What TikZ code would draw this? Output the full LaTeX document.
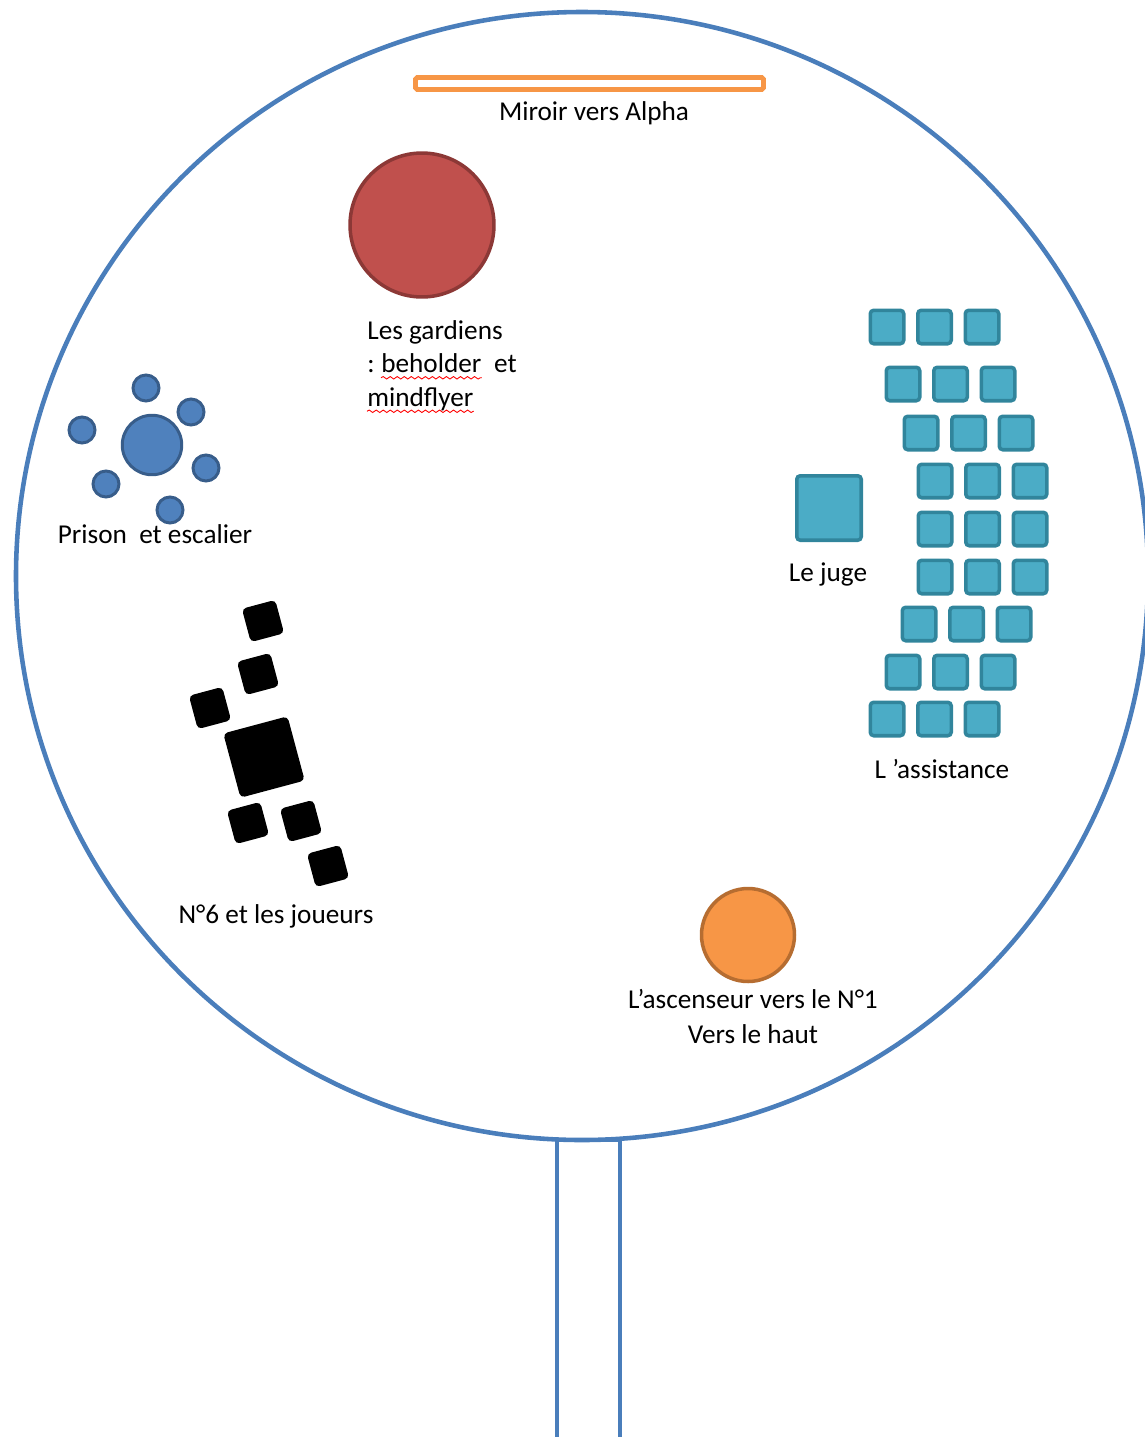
\documentclass[tikz,border=0pt]{standalone}
\usepackage{fontspec}
\setmainfont{Carlito}
\usetikzlibrary{positioning, decorations.pathmorphing}
\definecolor{ringblue}{HTML}{4A7EBB}
\definecolor{mirrororange}{HTML}{F79646}
\definecolor{guardred}{HTML}{C0504D}
\definecolor{guardedge}{HTML}{8C3836}
\definecolor{cellblue}{HTML}{4F81BD}
\definecolor{celledge}{HTML}{385D8A}
\definecolor{seatteal}{HTML}{4BACC6}
\definecolor{seatedge}{HTML}{31859C}
\definecolor{liftedge}{HTML}{B66D31}

\begin{document}
\begin{tikzpicture}[x=0.02cm, y=-0.02cm,
    every node/.style={font=\fontsize{15.5}{19}\selectfont, inner sep=0pt},
    cell/.style={circle, draw=celledge, fill=cellblue, line width=1.7pt, minimum size=0.52cm},
    seat/.style={rectangle, rounded corners=2pt, draw=seatedge, fill=seatteal, line width=2pt, minimum size=0.67cm},
    player/.style={rectangle, rounded corners=2.5pt, fill=black, minimum size=0.69cm, rotate=15},
    squiggle/.style={red, line width=0.5pt, decorate, decoration={snake, amplitude=0.7pt, segment length=4pt}}]
    \useasboundingbox (0,0) rectangle (1144,1437);

    % room and corridor
    \draw[ringblue, line width=2.6pt] (582,576) ellipse [x radius=566, y radius=564];
    \coordinate (corrtl) at (557,1140);
    \coordinate (corrtr) at (620,1140);
    \draw[ringblue, line width=2.6pt] (557,1445) -- (corrtl) -- (corrtr) -- (620,1445);

    % mirror
    \node[rectangle, rounded corners=1pt, draw=mirrororange, line width=2.8pt,
          minimum width=6.96cm, minimum height=0.24cm] (mirror) at (589.5,83.5) {};
    \node[anchor=base] (mirrorlabel) at (594,120) {Miroir vers Alpha};

    % guardians
    \node[circle, draw=guardedge, fill=guardred, line width=2pt, minimum size=2.88cm] (guards) at (422,225) {};
    \node[anchor=base west] (gl1) at (367,339) {Les gardiens};
    \node[anchor=base west] (gcolon) at (367,372.5) {:};
    \node[base right=0.12cm of gcolon] (gbeholder) {beholder};
    \node[base right=0.24cm of gbeholder] (get) {et};
    \node[anchor=base west] (gmind) at (367,406) {mindflyer};
    \draw[squiggle] ([yshift=-3pt]gbeholder.base west) -- ([yshift=-3pt]gbeholder.base east);
    \draw[squiggle] ([yshift=-3pt]gmind.base west) -- ([yshift=-3pt]gmind.base east);

    % prison
    \node[circle, draw=celledge, fill=cellblue, line width=1.7pt, minimum size=1.19cm] (prison) at (152,445) {};
    \foreach \cx/\cy [count=\i] in {146/388, 191/412, 82/430, 206/468, 106/484, 170/510}
        \node[cell] (cell\i) at (\cx,\cy) {};
    \node[anchor=base] (prisonlabel) at (155,543) {Prison~ et escalier};

    % players
    \node[player, minimum size=1.33cm] (no6) at (264,757) {};
    \foreach \px/\py [count=\i] in {263/621, 258/674, 210/708, 248/823, 301/821, 328/866}
        \node[player] (player\i) at (\px,\py) {};
    \node[anchor=base] (playerlabel) at (276,923) {N°6 et les joueurs};

    % judge
    \node[seat, minimum size=1.29cm] (judge) at (829,508) {};
    \node[anchor=base] (judgelabel) at (828,581) {Le juge};

    % audience
    \foreach \sy/\off [count=\r] in {327/0, 384/16, 433/34, 481/48, 529/48, 577/48, 624/32, 672/16, 719/0}
        \foreach \c in {0,1,2}
            \node[seat] (seat\r-\c) at (887+\off+47.5*\c,\sy) {};
    \node[anchor=base] (audiencelabel) at (942,778) {L ’assistance};

    % lift
    \node[circle, draw=liftedge, fill=mirrororange, line width=2pt, minimum size=1.86cm] (lift) at (748,935) {};
    \node[anchor=base] (liftlabel) at (753,1008) {L’ascenseur vers le N°1};
    \node[anchor=base] (liftnote) at ([yshift=-0.7cm]liftlabel.base) {Vers le haut};
\end{tikzpicture}
\end{document}
